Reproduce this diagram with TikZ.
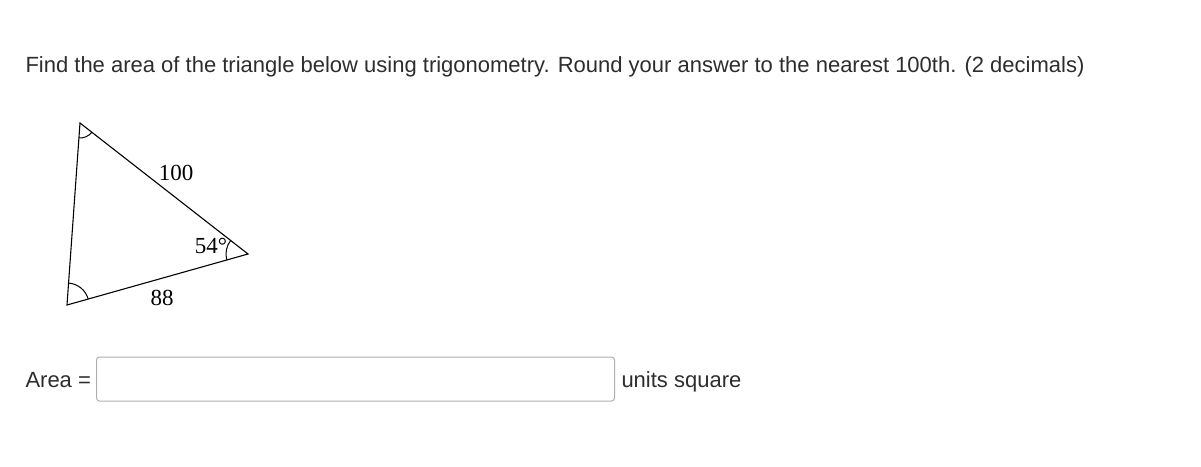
\documentclass[tikz,border=0pt]{standalone}
\usepackage{fontspec}
\setmainfont{Liberation Sans}
\newfontfamily\trifont{Liberation Serif}
\usetikzlibrary{angles}
\definecolor{qtext}{RGB}{45,45,45}
\definecolor{boxgray}{RGB}{175,175,175}
\tikzset{prompt/.style={anchor=base west, inner sep=0pt, text=qtext, font=\fontsize{22}{26}\selectfont}}
\tikzset{sidelbl/.style={inner sep=0pt, font=\trifont\fontsize{23}{26}\selectfont}}
\begin{document}
\begin{tikzpicture}[x=1pt, y=-1pt, line width=1pt]
  \useasboundingbox (0,0) rectangle (1201,466);

  % question
  \node[prompt] (ask) at (25,72) {Find the area of the triangle below using trigonometry. Round your answer to the nearest 100th. (2 decimals)};

  % triangle
  \coordinate (T) at (80,123);
  \coordinate (L) at (67,305);
  \coordinate (R) at (248,254);
  \draw[line width=1.1pt] (T) -- (L) -- (R) -- cycle;
  \pic[draw, angle radius=15pt] {angle = L--T--R};
  \pic[draw, angle radius=22pt] {angle = R--L--T};
  \pic[draw, angle radius=22pt] {angle = T--R--L};
  \node[sidelbl] (side100) at (176,173) {100};
  \node[sidelbl] (ang54) at (211,246) {54\textdegree};
  \node[sidelbl] (side88) at (162,298) {88};

  % answer line
  \node[prompt] (arealbl) at (25,387) {Area =};
  \node[draw=boxgray, rounded corners=3pt, line width=1pt, minimum width=518pt, minimum height=44pt, anchor=west] (answer) at (96,379) {};
  \node[prompt] (units) at ([xshift=6pt]answer.east |- arealbl.base) {units square};
\end{tikzpicture}
\end{document}
